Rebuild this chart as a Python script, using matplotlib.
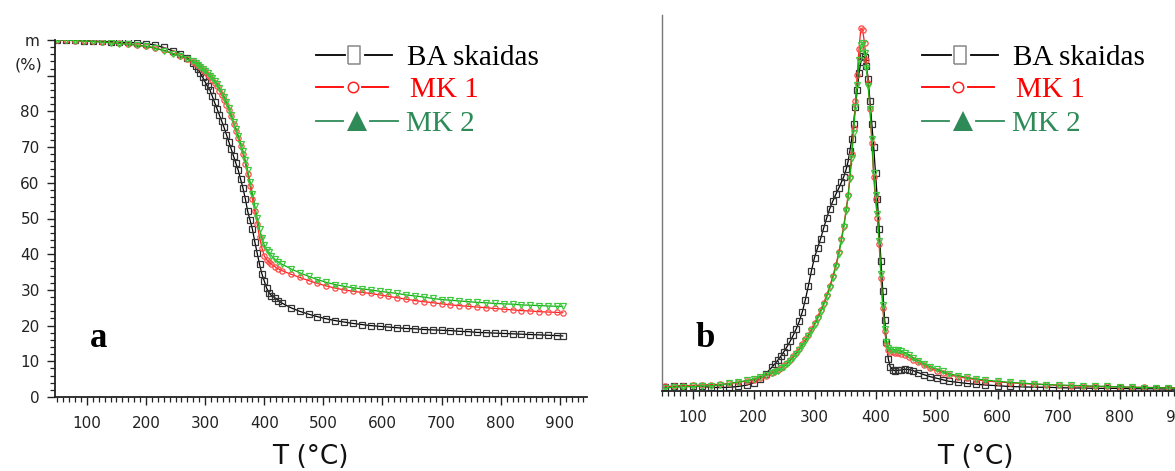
import matplotlib
matplotlib.use("Agg")
import matplotlib.pyplot as plt
from matplotlib.lines import Line2D
from matplotlib.ticker import MultipleLocator

# --- TG: residual mass (%) against temperature (degC) ---
temp_tg = [50, 65, 80, 95, 110, 125, 140, 155, 170, 185,
           200, 215, 230, 245, 258, 270, 280, 284, 288, 292,
           296, 300, 304, 308, 312, 316, 320, 324, 328, 332,
           336, 340, 344, 348, 352, 356, 360, 364, 368, 372,
           376, 380, 384, 388, 392, 396, 400, 404, 408, 412,
           418, 424, 430, 445, 460, 475, 490, 505, 520, 535,
           550, 565, 580, 595, 610, 625, 640, 655, 670, 685,
           700, 715, 730, 745, 760, 775, 790, 805, 820, 835,
           850, 865, 880, 895, 905]
mass_ba = [100.0, 100.0, 99.9, 99.8, 99.7, 99.6, 99.5, 99.4, 99.3, 99.2,
           99.0, 98.6, 97.9, 97.0, 96.2, 95.0, 93.5, 92.7, 91.8, 90.7,
           89.5, 88.2, 87.1, 86.0, 84.3, 82.5, 80.8, 79.0, 77.3, 75.5,
           73.5, 71.5, 69.5, 67.5, 65.5, 63.5, 61.0, 58.5, 55.5, 52.0,
           49.5, 47.0, 43.5, 40.3, 37.2, 34.5, 32.5, 30.5, 29.2, 28.4,
           27.8, 27.0, 26.3, 25.0, 24.0, 23.2, 22.5, 21.9, 21.4, 21.0,
           20.6, 20.3, 20.0, 19.8, 19.6, 19.4, 19.2, 19.1, 18.9, 18.8,
           18.7, 18.6, 18.4, 18.3, 18.1, 18.0, 17.9, 17.8, 17.7, 17.6,
           17.5, 17.4, 17.3, 17.2, 17.1]
mass_mk1 = [100.0, 100.0, 99.8, 99.7, 99.6, 99.5, 99.3, 99.1, 98.9, 98.6,
            98.3, 97.8, 97.1, 96.3, 95.5, 94.6, 93.8, 93.3, 92.9, 92.3,
            91.6, 91.0, 90.3, 89.6, 88.8, 88.0, 87.0, 85.8, 84.6, 83.2,
            81.9, 80.5, 78.6, 76.6, 74.6, 72.5, 70.3, 68.0, 65.3, 62.5,
            59.0, 55.5, 52.0, 48.5, 44.8, 41.8, 39.5, 38.5, 37.8, 37.2,
            36.5, 35.9, 35.4, 34.4, 33.5, 32.6, 31.8, 31.1, 30.5, 30.0,
            29.6, 29.3, 29.0, 28.6, 28.2, 27.8, 27.4, 27.0, 26.7, 26.4,
            26.1, 25.8, 25.6, 25.4, 25.2, 25.0, 24.8, 24.6, 24.4, 24.2,
            24.1, 23.9, 23.8, 23.7, 23.6]
mass_mk2 = [100.0, 100.0, 99.8, 99.7, 99.6, 99.4, 99.2, 99.0, 98.8, 98.5,
            98.2, 97.7, 97.0, 96.2, 95.5, 94.7, 94.0, 93.5, 93.1, 92.5,
            91.9, 91.3, 90.7, 90.0, 89.3, 88.5, 87.6, 86.5, 85.3, 84.0,
            82.5, 81.0, 79.0, 77.0, 75.1, 73.2, 71.0, 68.9, 66.3, 63.5,
            60.3, 57.0, 53.6, 50.2, 47.0, 44.5, 42.5, 41.3, 40.5, 39.6,
            38.6, 37.8, 37.2, 35.9, 34.8, 33.8, 32.9, 32.1, 31.5, 31.0,
            30.6, 30.3, 30.0, 29.6, 29.3, 29.0, 28.6, 28.3, 28.0, 27.6,
            27.3, 27.1, 26.9, 26.7, 26.5, 26.4, 26.2, 26.1, 26.0, 25.8,
            25.7, 25.6, 25.5, 25.4, 25.4]

# --- DTG: rate of mass loss (relative units) against temperature (degC) ---
temp_dtg = [55, 70, 85, 100, 115, 130, 145, 160, 175, 190,
            200, 210, 220, 230, 235, 240, 245, 250, 255, 260,
            265, 270, 275, 280, 285, 290, 295, 300, 305, 310,
            315, 320, 325, 330, 335, 340, 344, 348, 352, 355,
            358, 361, 364, 367, 370, 373, 376, 379, 382, 385,
            388, 391, 394, 397, 400, 403, 406, 409, 412, 415,
            418, 421, 424, 428, 432, 437, 442, 448, 455, 462,
            470, 480, 490, 500, 510, 520, 535, 550, 565, 580,
            600, 620, 640, 660, 680, 700, 720, 740, 760, 780,
            800, 820, 840, 860, 880, 900, 920]
dtg_ba = [1.0, 1.2, 1.4, 1.4, 1.2, 1.0, 0.9, 1.0, 1.2, 1.6,
          2.2, 3.2, 4.5, 6.3, 7.2, 8.2, 9.3, 10.5, 11.8, 13.2,
          14.8, 16.5, 18.5, 21.0, 24.3, 28.0, 32.0, 35.5, 38.0, 40.5,
          43.3, 46.0, 48.5, 50.5, 52.3, 54.0, 55.5, 57.0, 59.0, 61.0,
          63.8, 67.0, 71.0, 75.5, 80.0, 84.5, 87.5, 89.0, 88.8, 86.5,
          83.0, 77.0, 71.0, 65.0, 58.0, 51.0, 43.0, 34.5, 26.5, 19.0,
          13.0, 8.5, 6.5, 5.6, 5.4, 5.5, 5.6, 5.8, 5.7, 5.4,
          4.9, 4.3, 3.8, 3.4, 3.0, 2.6, 2.3, 2.0, 1.8, 1.6,
          1.4, 1.2, 1.1, 1.0, 1.0, 0.9, 0.8, 0.8, 0.7, 0.7,
          0.7, 0.6, 0.6, 0.6, 0.5, 0.5, 0.5]
dtg_mk1 = [1.2, 1.3, 1.4, 1.5, 1.6, 1.7, 1.8, 2.0, 2.3, 2.7,
           3.0, 3.5, 4.1, 4.8, 5.2, 5.6, 6.2, 6.8, 7.5, 8.3,
           9.2, 10.2, 11.3, 12.5, 13.7, 15.0, 16.5, 18.0, 19.7, 21.5,
           23.4, 25.5, 27.9, 30.5, 33.5, 37.0, 40.5, 44.0, 48.5, 52.0,
           57.0, 63.0, 70.0, 77.0, 84.0, 91.0, 96.5, 96.0, 92.5, 88.0,
           82.0, 75.0, 66.0, 57.0, 51.0, 46.0, 39.0, 30.0, 22.0, 16.0,
           12.5, 11.0, 10.5, 10.3, 10.2, 10.1, 9.9, 9.5, 9.0, 8.3,
           7.6, 6.8, 6.0, 5.4, 4.9, 4.3, 3.8, 3.4, 3.0, 2.7,
           2.4, 2.2, 2.0, 1.8, 1.7, 1.5, 1.4, 1.3, 1.2, 1.2,
           1.1, 1.0, 1.0, 0.9, 0.9, 0.8, 0.8]
dtg_mk2 = [0.8, 1.0, 1.1, 1.2, 1.3, 1.4, 1.6, 2.0, 2.4, 2.8,
           3.1, 3.6, 4.2, 4.7, 5.0, 5.4, 6.0, 6.5, 7.2, 8.0,
           8.9, 9.8, 10.9, 12.0, 13.2, 14.5, 16.0, 17.5, 19.2, 21.0,
           22.9, 25.0, 27.4, 30.0, 33.0, 36.5, 40.0, 43.5, 48.0, 51.5,
           56.5, 62.0, 68.5, 75.5, 81.5, 88.0, 92.0, 92.5, 90.0, 86.0,
           81.0, 75.0, 67.0, 58.0, 52.0, 47.0, 40.0, 31.0, 23.0, 16.5,
           13.0, 11.5, 11.0, 11.0, 11.0, 10.9, 10.7, 10.2, 9.6, 8.8,
           8.1, 7.2, 6.4, 5.8, 5.2, 4.6, 4.1, 3.6, 3.2, 2.9,
           2.6, 2.3, 2.1, 1.9, 1.7, 1.6, 1.5, 1.4, 1.3, 1.2,
           1.1, 1.0, 0.9, 0.9, 0.8, 0.8, 0.7]

series_names = ['BA skaidas', 'MK 1', 'MK 2']
x_ticks = [100, 200, 300, 400, 500, 600, 700, 800, 900]
y_ticks = [0, 10, 20, 30, 40, 50, 60, 70, 80, 90, 100]
y_labels = ['0', '10', '20', '30', '40', '50', '60', '70', '80', '', 'm']

W, H = 1175, 471
fig = plt.figure(figsize=(W / 100, H / 100), dpi=100)


def fx(px):
    return px / W


def fy(py):
    return 1 - py / H


styles = [
    dict(color='black', marker='s', mec='#333333'),
    dict(color='#ff2020', marker='o', mec='#ff4a4a'),
    dict(color='#10b010', marker='v', mec='#3cc83c'),
]


def draw_curves(ax, temps, curves):
    for vals, st in zip(curves, styles):
        ax.plot(temps, vals, color=st['color'], lw=0.9, marker=st['marker'],
                ms=3.8, mfc='none', mec=st['mec'], mew=0.9)


def setup_xaxis(ax):
    ax.set_xticks(x_ticks)
    ax.xaxis.set_minor_locator(MultipleLocator(10))
    ax.tick_params(axis='x', which='major', direction='out', length=6, width=1,
                   labelsize=11, pad=8, colors='#222222')
    ax.tick_params(axis='x', which='minor', direction='out', length=3.5, width=0.9,
                   colors='#222222')
    for s in ('top', 'right'):
        ax.spines[s].set_visible(False)
    ax.spines['bottom'].set_linewidth(1.3)
    ax.spines['bottom'].set_color('#222222')


# left panel: TG
ax1 = fig.add_axes([fx(55), fy(397), fx(587) - fx(55), fy(40) - fy(397)])
draw_curves(ax1, temp_tg, [mass_ba, mass_mk1, mass_mk2])
ax1.set_xlim(46, 946)
ax1.set_ylim(0, 100)
setup_xaxis(ax1)
ax1.set_yticks(y_ticks)
ax1.set_yticklabels(y_labels)
ax1.yaxis.set_minor_locator(MultipleLocator(2))
ax1.tick_params(axis='y', which='major', direction='out', length=6, width=1,
                labelsize=11, pad=5, colors='#222222')
ax1.tick_params(axis='y', which='minor', direction='out', length=3.5, width=0.9,
                colors='#222222')
ax1.spines['left'].set_linewidth(1.3)
ax1.spines['left'].set_color('#222222')
ax1.text(-0.023, 92.9, '(%)', transform=ax1.get_yaxis_transform(), ha='right',
         va='center', fontsize=11.5, color='#222222')

# right panel: DTG (axis runs past the right edge of the figure)
x_right0 = 662
px_per_deg = 0.61
ax2 = fig.add_axes([fx(x_right0), fy(391), fx(900 * px_per_deg), fy(15) - fy(391)])
draw_curves(ax2, temp_dtg, [dtg_ba, dtg_mk1, dtg_mk2])
ax2.set_xlim(50, 950)
ax2.set_ylim(0, 100)
setup_xaxis(ax2)
ax2.set_yticks([])
ax2.spines['left'].set_linewidth(1)
ax2.spines['left'].set_color('#777777')

# axis titles and panel letters
for cx in (310, 975):
    fig.text(fx(cx), fy(464), 'T (°C)', ha='center', va='baseline', fontsize=19,
             family='DejaVu Sans', color='#111111')
fig.text(fx(90), fy(347), 'a', fontsize=25, fontweight='bold',
         family='Liberation Serif')
fig.text(fx(696), fy(347), 'b', fontsize=25, fontweight='bold',
         family='Liberation Serif')

# hand-drawn keys: line - symbol - line, then the coloured name
key_colors = ['black', '#ff0000', '#2e8b57']
key_rows = [55, 87, 121]
key_segments = [((316, 345), (365, 392), 354, 407),
                ((316, 343), (362, 388), 352.5, 410),
                ((316, 343), (370, 398), 357, 406)]


def draw_key(dx):
    for i, name in enumerate(series_names):
        yl = key_rows[i]
        (a0, a1), (b0, b1), mx, tx = key_segments[i]
        col = key_colors[i]
        for p0, p1 in ((a0, a1), (b0, b1)):
            fig.add_artist(Line2D([fx(p0 + dx), fx(p1 + dx)], [fy(yl), fy(yl)],
                                  color=col, lw=1.3, transform=fig.transFigure))
        if i == 0:
            mk = dict(marker=[(-0.35, -0.5), (0.35, -0.5), (0.35, 0.5), (-0.35, 0.5),
                              (-0.35, -0.5)], ms=13, mfc='white', mec='#888888',
                      mew=1.1)
        elif i == 1:
            mk = dict(marker='o', ms=7.5, mfc='white', mec='#ff2020', mew=1.1)
        else:
            mk = dict(marker='^', ms=14, mfc=col, mec=col, mew=0)
        fig.add_artist(Line2D([fx(mx + dx)], [fy(yl)], ls='none',
                              transform=fig.transFigure, **mk))
        fig.text(fx(tx + dx), fy(yl + 10), name, ha='left', va='baseline',
                 fontsize=21, family='Liberation Serif', color=col)


draw_key(0)
draw_key(606)

fig.savefig('out.png', dpi=100)
